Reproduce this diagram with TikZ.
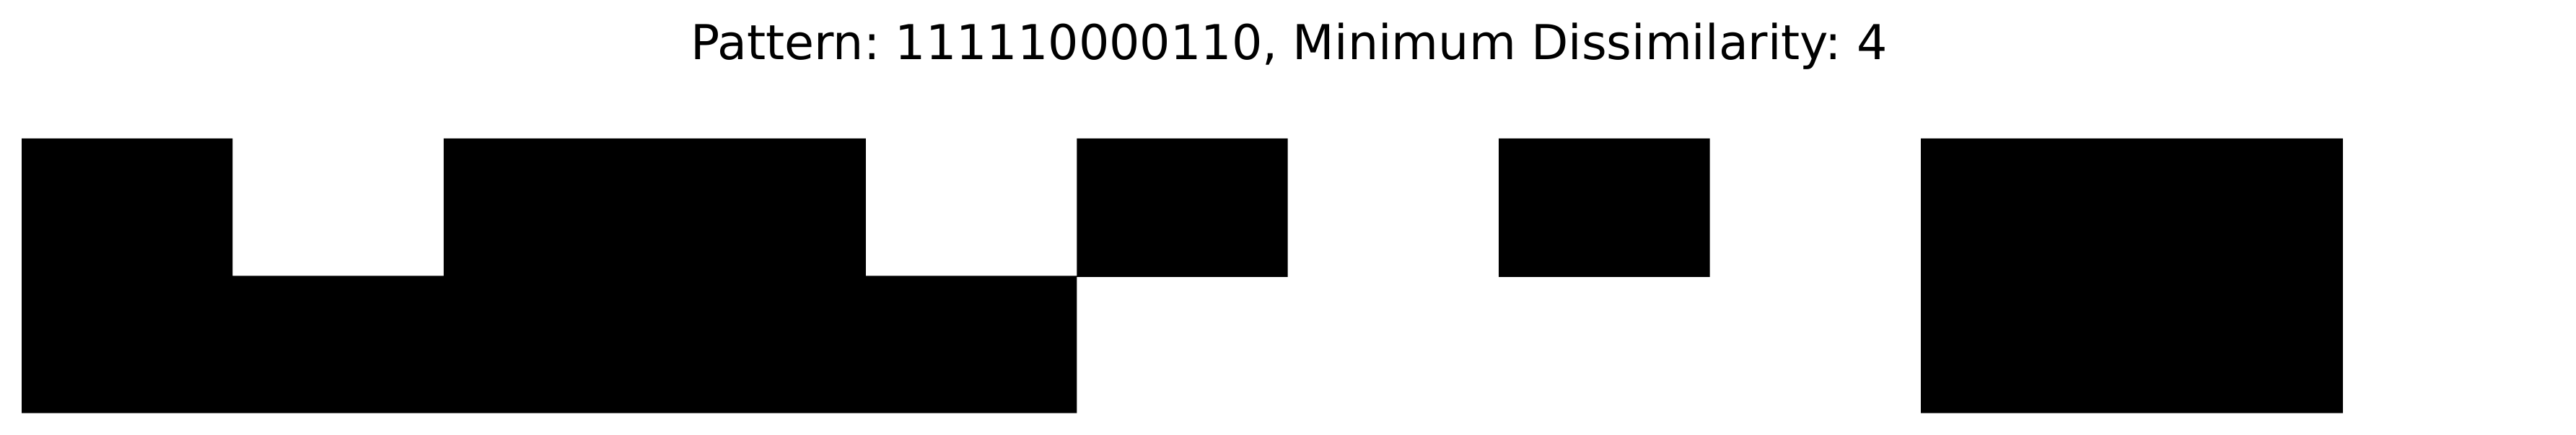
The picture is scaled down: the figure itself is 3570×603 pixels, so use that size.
\documentclass[tikz,border=0pt]{standalone}
\usepackage{fontspec}
\setmainfont{DejaVu Sans}
\frenchspacing
\begin{document}
\begin{tikzpicture}[x=0.24pt,y=-0.24pt,
  cellfill/.style={fill=black},
  titletext/.style={anchor=base,inner sep=0pt,font=\fontsize{16pt}{19pt}\selectfont\frenchspacing}]
\useasboundingbox (0,0) rectangle (3570,603);
\fill[white] (0,0) rectangle (3570,603);
\node[titletext] (title) at (1786.5,82.3) {Pattern: 111110000110, Minimum Dissimilarity: 4};
\def\cw{292.45}
\fill[cellfill]
  \foreach \c in {0,2,3,5,7,9,10} {(30+\c*\cw,192) rectangle (30+\c*\cw+\cw,384)}
  \foreach \c in {0,1,2,3,4,9,10} {(30+\c*\cw,382.3) rectangle (30+\c*\cw+\cw,572.7)};
\end{tikzpicture}
\end{document}
